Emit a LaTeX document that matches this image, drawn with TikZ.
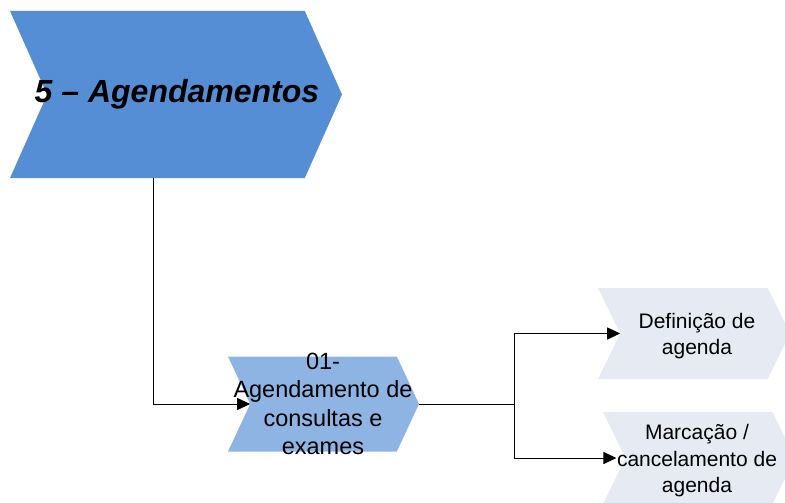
\documentclass[tikz,border=0pt]{standalone}
\usepackage{fontspec}
\setmainfont{Liberation Sans}
\usetikzlibrary{arrows.meta, shapes.symbols}

\definecolor{phaseblue}{RGB}{85,142,213}
\definecolor{stepblue}{RGB}{142,180,227}
\definecolor{taskgray}{RGB}{230,235,243}

\begin{document}
\begin{tikzpicture}[
            x=1pt, y=-1pt,
            >={Triangle[length=13pt, width=12pt]},
            chevron/.style={
                signal, signal from=west, signal to=east,
                draw=none, inner sep=0pt, outer sep=0pt
            },
            label text/.style={align=center, inner sep=0pt},
            flow/.style={->, line width=1pt}
        ]
            \useasboundingbox (0,0) rectangle (785,503);

            % phase
            \node[chevron, fill=phaseblue, minimum width=332pt, minimum height=167pt,
                signal pointer angle=132] (phase) at (176,94.5) {};
            \node[label text, font=\fontsize{32}{36}\selectfont\bfseries\itshape] (phasetxt) at (177,94) {5 -- Agendamentos};

            % process
            \node[chevron, fill=stepblue, minimum width=191pt, minimum height=95pt,
                signal pointer angle=130] (sched) at (323.5,404) {};
            \node[label text, font=\fontsize{23.5}{28.5}\selectfont] (schedtxt) at (323,404) {01-\\Agendamento de\\consultas e\\exames};

            % tasks
            \node[chevron, fill=taskgray, minimum width=192pt, minimum height=91pt,
                signal pointer angle=128] (defn) at (694,333.5) {};
            \node[label text, font=\fontsize{21}{26.5}\selectfont] (defntxt) at (697,336) {Definição de\\agenda};

            \node[chevron, fill=taskgray, minimum width=192pt, minimum height=92pt,
                signal pointer angle=128] (marc) at (699,458) {};
            \node[label text, font=\fontsize{21}{26.5}\selectfont] (marctxt) at (697,461) {Marcação /\\cancelamento de\\agenda};

            \coordinate (drop) at ([xshift=-23pt]phase.south);
            \coordinate (fork) at ([xshift=95pt]sched.east);
            \draw[flow] (drop) |- (sched.west);
            \draw[line width=1pt] (sched.east) -- (fork);
            \draw[flow] (fork) |- (defn.west);
            \draw[flow] (fork) |- ([xshift=-9pt]marc.west);
        \end{tikzpicture}
\end{document}
